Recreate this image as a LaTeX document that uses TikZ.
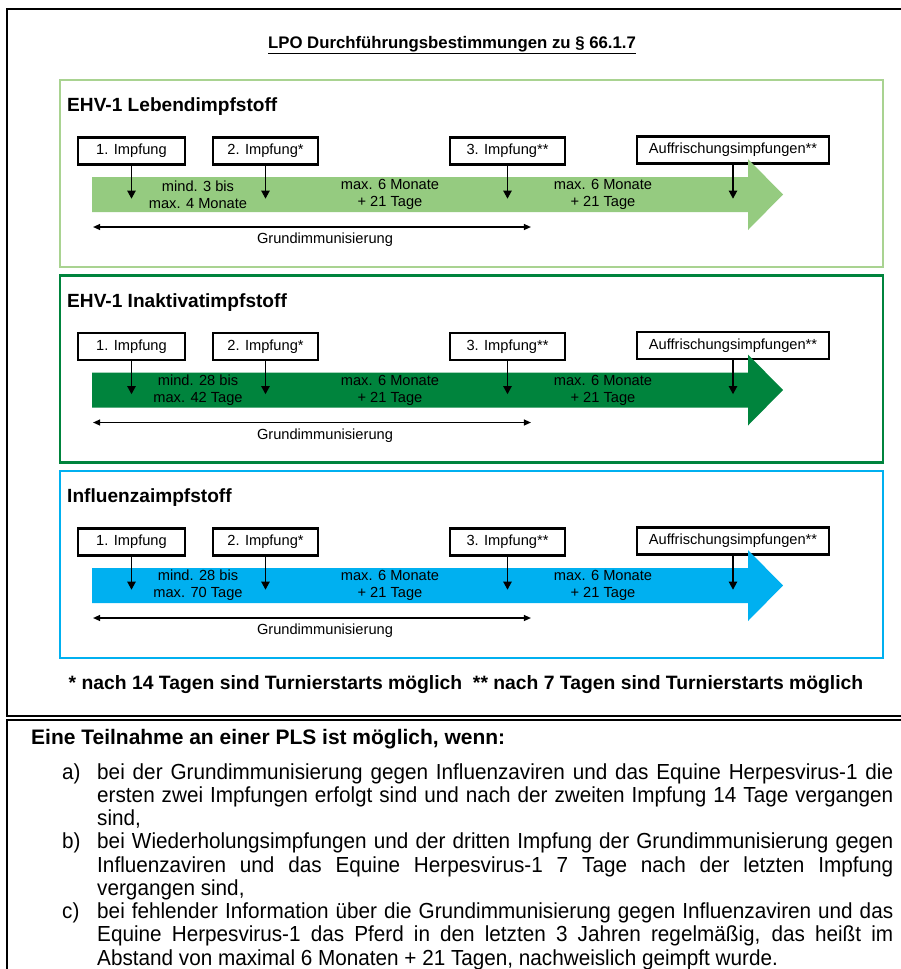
\documentclass[tikz,border=0pt]{standalone}
\usepackage{fontspec}
\setmainfont{Liberation Sans}
\newfontfamily\schmal[FakeStretch=0.95]{Liberation Sans}
\usetikzlibrary{calc,arrows.meta}

\definecolor{lebend}{HTML}{95CB80}
\definecolor{lebendrand}{HTML}{A9D391}
\definecolor{inaktiv}{HTML}{00843D}
\definecolor{influenza}{HTML}{00B0F0}

\tikzset{
  rahmen/.style={line width=1.8pt},
  feld/.style={line width=2.3pt},
  impfbox/.style={draw, line width=2.2pt, fill=white, minimum height=0.81cm, inner sep=0pt,
    font=\fontsize{12.5}{14.5}\selectfont},
  zeit/.style={align=center, inner sep=0pt, font=\fontsize{12.5}{14.5}\selectfont},
  titel/.style={anchor=west, inner sep=0pt, font=\bfseries\fontsize{16.3}{19}\selectfont},
  pfeil/.style={line width=1.6pt, -{Triangle[length=7pt,width=7pt]}},
  grund/.style={line width=1.3pt, {Triangle[length=6pt,width=5pt]}-{Triangle[length=6pt,width=5pt]}},
  absatz/.style={anchor=base west, inner sep=0pt, text width=23.88cm, align=justify,
    font=\schmal\fontsize{18.6}{19.85}\selectfont},
  marke/.style={anchor=base west, inner sep=0pt, font=\schmal\fontsize{18.6}{19.85}\selectfont},
}

\begin{document}
\begin{tikzpicture}[x=0.03cm,y=-0.03cm]
  \useasboundingbox (0,0) rectangle (901,969);
  \clip (0,0) rectangle (901,969);
  \fill[white] (0,0) rectangle (901,969);

  % Rahmen oben und unten
  \draw[rahmen] (910,9) -- (7,9) -- (7,716) -- (910,716);
  \draw[rahmen] (910,720) -- (7,720) -- (7,980);

  \node[inner sep=0pt, font=\bfseries\fontsize{14.3}{17}\selectfont] (kopf) at (452,45)
    {\underline{LPO Durchführungsbestimmungen zu § 66.1.7}};

  % die drei Impfstoffe
  \foreach \i/\off/\col/\rand/\name/\lo/\hi in {
      1/0/lebend/lebendrand/EHV-1 Lebendimpfstoff/mind. 3 bis/max. 4 Monate,
      2/195.5/inaktiv/inaktiv/EHV-1 Inaktivatimpfstoff/mind. 28 bis/max. 42 Tage,
      3/391/influenza/influenza/Influenzaimpfstoff/mind. 28 bis/max. 70 Tage}{
    \begin{scope}[shift={(0,\off)}]
      \draw[feld, draw=\rand] (60,80) rectangle (883,267);
      \node[titel] (t\i) at (67,107) {\name};

      \node[impfbox, minimum width=3.21cm] (a\i) at (131.5,151) {1. Impfung};
      \node[impfbox, minimum width=3.15cm] (b\i) at (265.5,151) {2. Impfung*};
      \node[impfbox, minimum width=3.45cm] (c\i) at (507.5,151) {3. Impfung**};
      \node[impfbox, minimum width=5.76cm] (d\i) at (733,150) {Auffrischungsimpfungen**};

      \fill[\col] (92,177) -- (748,177) -- (748,159) -- (783,194.5) -- (748,230)
        -- (748,212) -- (92,212) -- cycle;

      \draw[pfeil] (a\i.south) -- +(0,33);
      \draw[pfeil] (b\i.south) -- +(0,33);
      \draw[pfeil] (c\i.south) -- +(0,33);
      \draw[pfeil] (d\i.south) -- +(0,34);

      \node[zeit] (z1\i) at (198,194.5) {\lo\\\hi};
      \node[zeit] (z2\i) at (390,194.5) {max. 6 Monate\\+ 21 Tage};
      \node[zeit] (z3\i) at (603,194.5) {max. 6 Monate\\+ 21 Tage};

      \coordinate (gl\i) at (93,227);
      \coordinate (gr\i) at (531,227);
      \draw[grund] (gl\i) -- (gr\i);
      \node[zeit] (g\i) at (325,240) {Grundimmunisierung};
    \end{scope}
  }

  \node[inner sep=0pt, font=\bfseries\fontsize{16.5}{19}\selectfont] (fuss) at (466,685)
    {* nach 14 Tagen sind Turnierstarts möglich\ \ ** nach 7 Tagen sind Turnierstarts möglich};

  % PLS
  \node[anchor=base west, inner sep=0pt, font=\bfseries\fontsize{17.9}{20}\selectfont] (pls) at (31,744.5)
    {Eine Teilnahme an einer PLS ist möglich, wenn:};

  \node[marke] (la) at (62,779) {a)};
  \node[absatz] (pa) at (97,779) {\hyphenpenalty=10000\exhyphenpenalty=10000\tolerance=9999
    bei der Grundimmunisierung gegen Influenzaviren und das Equine Herpesvirus-1 die\linebreak
    ersten zwei Impfungen erfolgt sind und nach der zweiten Impfung 14 Tage vergangen\linebreak
    sind,};
  \node[marke] (lb) at (62,848.75) {b)};
  \node[absatz] (pb) at (97,848.75) {\hyphenpenalty=10000\exhyphenpenalty=10000\tolerance=9999
    bei Wiederholungsimpfungen und der dritten Impfung der Grundimmunisierung gegen\linebreak
    Influenzaviren und das Equine Herpesvirus-1 7 Tage nach der letzten Impfung\linebreak
    vergangen sind,};
  \node[marke] (lc) at (62,918.5) {c)};
  \node[absatz] (pc) at (97,918.5) {\hyphenpenalty=10000\exhyphenpenalty=10000\tolerance=9999
    bei fehlender Information über die Grundimmunisierung gegen Influenzaviren und das\linebreak
    Equine Herpesvirus-1 das Pferd in den letzten 3 Jahren regelmäßig, das heißt im\linebreak
    Abstand von maximal 6 Monaten + 21 Tagen, nachweislich geimpft wurde.};
\end{tikzpicture}
\end{document}
